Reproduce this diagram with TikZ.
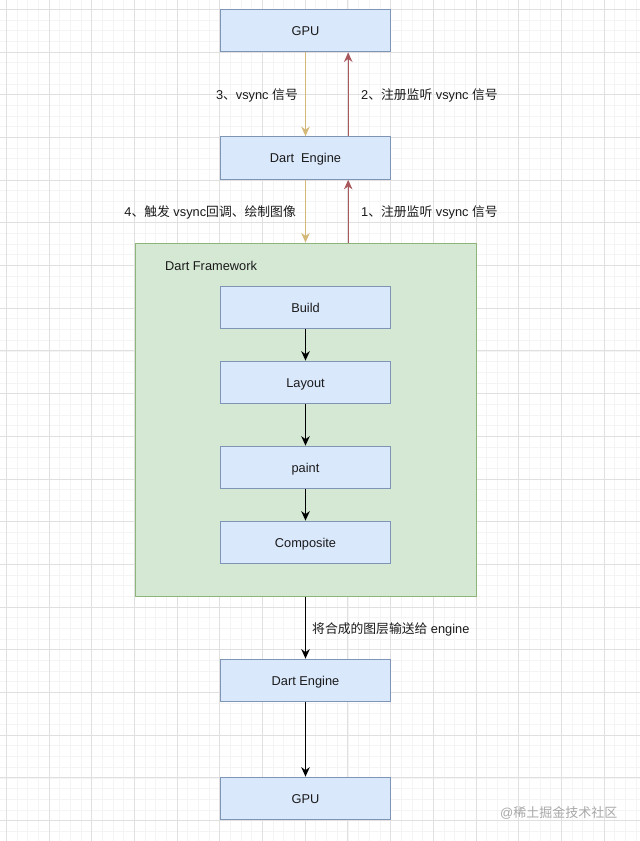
\documentclass[tikz,border=0pt]{standalone}
\usepackage{fontspec}
\setmainfont{Liberation Sans}
\newfontfamily\cjk{Noto Sans CJK SC}
\usetikzlibrary{arrows.meta}
\definecolor{boxfill}{HTML}{DAE8FC}
\definecolor{boxline}{HTML}{7F95B8}
\definecolor{fwfill}{HTML}{D5E8D4}
\definecolor{fwline}{HTML}{8FB47A}
\definecolor{yarrow}{HTML}{D4B878}
\definecolor{rarrow}{HTML}{A8585C}
\definecolor{txt}{HTML}{1A1A1A}
\definecolor{gmajor}{HTML}{E0E0E0}
\definecolor{gminor}{HTML}{F4F4F4}
\definecolor{wm}{HTML}{A8A8A8}
\newcommand{\zh}[1]{{\cjk #1}}
\begin{document}
\begin{tikzpicture}[x=1pt,y=-1pt,
  txtfont/.style={font=\fontsize{12.8}{15}\selectfont, text=txt},
  blk/.style={draw=boxline, fill=boxfill, line width=1pt, minimum width=170.5pt, minimum height=42.7pt, inner sep=0pt, text height=9.2pt, text depth=0pt, txtfont},
  fwbox/.style={draw=fwline, fill=fwfill, line width=1pt, minimum width=341pt, minimum height=353pt, inner sep=0pt},
  lbl/.style={txtfont, inner sep=0pt},
  tip/.style={-{Stealth[length=9.5pt,width=8.5pt,inset=3pt]}, line width=1.3pt},
  yarr/.style={tip, draw=yarrow},
  rarr/.style={tip, draw=rarrow},
  karr/.style={tip, draw=black},
  gmin/.style={draw=gminor, line width=0.8pt},
  gmaj/.style={draw=gmajor, line width=0.9pt}]
\useasboundingbox (0,0) rectangle (640,841);
\fill[white] (0,0) rectangle (640,841);
% grid
\foreach \i in {0,...,60} {\draw[gmin] ({6.3+10.675*\i},0) -- ({6.3+10.675*\i},841);}
\foreach \i in {0,...,78} {\draw[gmin] (0,{9.3+10.675*\i}) -- (640,{9.3+10.675*\i});}
\foreach \i in {0,...,14} {\draw[gmaj] ({6.3+42.7*\i},0) -- ({6.3+42.7*\i},841);}
\foreach \i in {0,...,19} {\draw[gmaj] (0,{9.3+42.7*\i}) -- (640,{9.3+42.7*\i});}
% nodes
\node[blk] (gpu1) at (305.5,30.6) {GPU};
\node[blk] (eng1) at (305.5,158) {Dart\ \ Engine};
\node[fwbox] (fw) at (305.5,419.5) {};
\node[lbl, anchor=west] (fwlbl) at (165,265.5) {Dart Framework};
\node[blk] (build) at (305.5,307.5) {Build};
\node[blk] (layout) at (305.5,382.5) {Layout};
\node[blk] (paint) at (305.5,467.5) {paint};
\node[blk] (comp) at (305.5,542.5) {Composite};
\node[blk] (eng2) at (305.5,680.5) {Dart Engine};
\node[blk] (gpu2) at (305.5,798.5) {GPU};
% top connectors
\draw[yarr] (gpu1.south) -- (eng1.north);
\draw[rarr] ([xshift=42.7pt]eng1.north) -- ([xshift=42.7pt]gpu1.south);
\draw[yarr] (eng1.south) -- (eng1.south |- fw.north);
\draw[rarr] ([xshift=42.7pt]eng1.south |- fw.north) -- ([xshift=42.7pt]eng1.south);
% labels
\node[lbl, anchor=east] (l3) at (298,95) {3\zh{、}vsync \zh{信号}};
\node[lbl, anchor=west] (l2) at (361,95) {2\zh{、注册监听} vsync \zh{信号}};
\node[lbl, anchor=east] (l4) at (296,212.5) {4\zh{、触发} vsync\zh{回调、绘制图像}};
\node[lbl, anchor=west] (l1) at (361,212.5) {1\zh{、注册监听} vsync \zh{信号}};
% framework chain
\draw[karr] (build) -- (layout);
\draw[karr] (layout) -- (paint);
\draw[karr] (paint) -- (comp);
\draw[karr] (fw.south) -- (eng2.north);
\draw[karr] (eng2) -- (gpu2);
\node[lbl, anchor=west] (l5) at (312,629) {\zh{将合成的图层输送给} engine};
% watermark
\node[inner sep=0pt, anchor=west, text=wm, font=\fontsize{13}{15}\selectfont] (wmk) at (500,813) {@\zh{稀土掘金技术社区}};
\end{tikzpicture}
\end{document}
